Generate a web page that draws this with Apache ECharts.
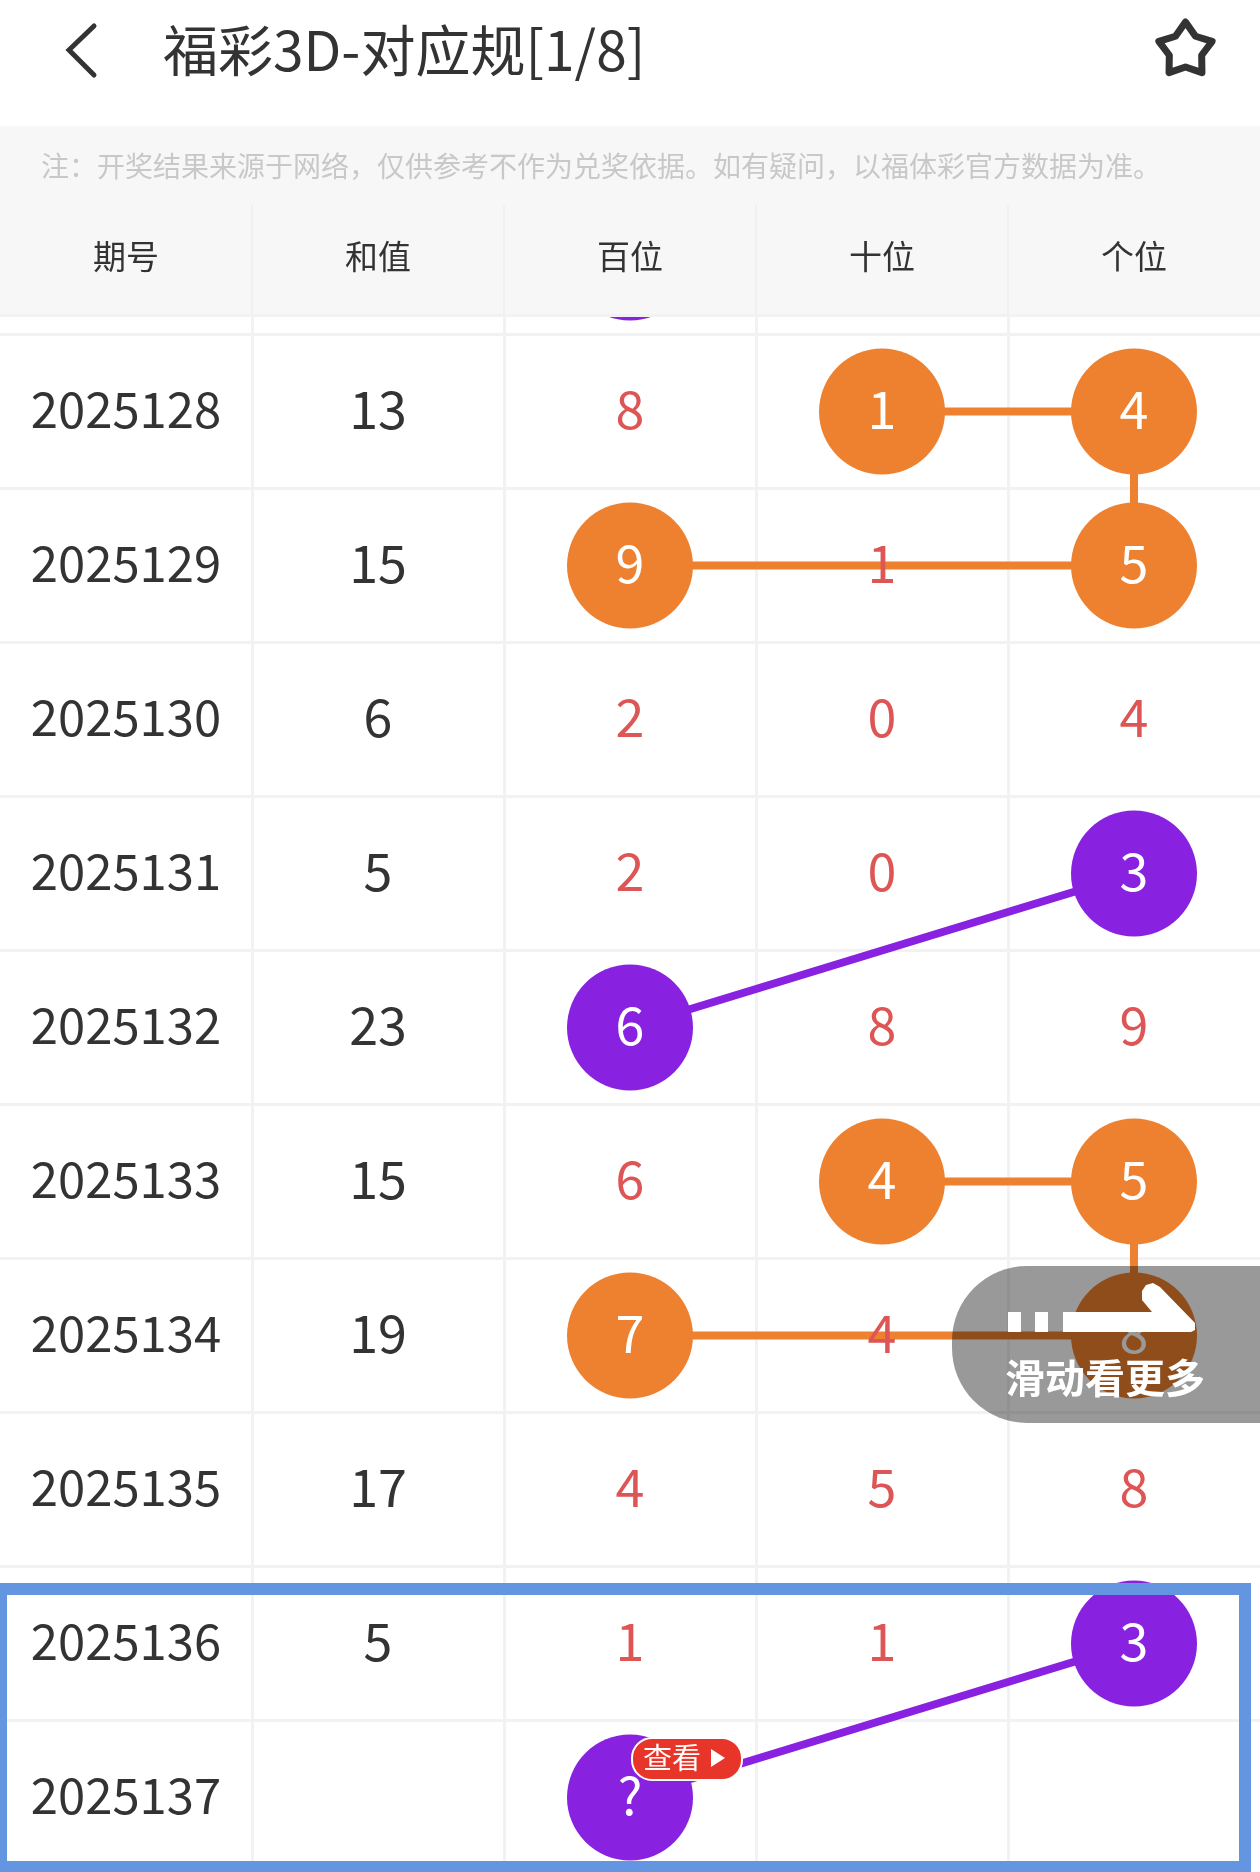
<!DOCTYPE html>
<html>
<head>
<meta charset="utf-8"/>
<title>福彩3D-对应规</title>
<script src="https://cdn.jsdelivr.net/npm/echarts@6/dist/echarts.min.js"></script>
<style>html,body{margin:0;padding:0;background:#fff;overflow:hidden}</style>
</head>
<body>
<div id="main" style="width:1260px;height:1880px;"></div>
<script type="text/javascript">
var columns = ['期号', '和值', '百位', '十位', '个位'];
var periods = ['', '2025128', '2025129', '2025130', '2025131', '2025132', '2025133', '2025134', '2025135', '2025136', '2025137'];
var sums = ['', 13, 15, 6, 5, 23, 15, 19, 17, 5, ''];
var hundreds = ['', 8, 9, 2, 2, 6, 6, 7, 4, 1, '?'];
var tens = ['', 1, 1, 0, 0, 8, 4, 4, 5, 1, ''];
var units = ['', 4, 5, 4, 3, 9, 5, 8, 8, 3, ''];
// [column, row] of the balls, column 2 = 百位, 3 = 十位, 4 = 个位
var orangeBalls = [[3, 1], [4, 1], [2, 2], [4, 2], [3, 6], [4, 6], [2, 7], [4, 7]];
var purpleBalls = [[2, 0], [4, 4], [2, 5], [4, 9], [2, 10]];
var orangeLinks = [
    [[3, 1], [4, 1], [4, 2], [2, 2]],
    [[3, 6], [4, 6], [4, 7], [2, 7]]
];
var purpleLinks = [
    [[4, 4], [2, 5]],
    [[4, 9], [2, 10]]
];

var ORANGE = '#ee8130', PURPLE = '#8822e0', RED = '#dd5555', DARK = '#333333', LINE = '#f2f2f2';
var FONT = '"Noto Sans CJK SC", "Noto Sans", sans-serif';
var digitCols = [hundreds, tens, units];

var plainCells = [];
periods.forEach(function (p, r) { plainCells.push({ value: [0, r, p], label: { color: DARK, fontSize: 49 } }); });
sums.forEach(function (s, r) { plainCells.push({ value: [1, r, s], label: { color: DARK } }); });
function isBall(list, c, r) {
    return list.some(function (b) { return b[0] === c && b[1] === r; });
}
digitCols.forEach(function (col, i) {
    col.forEach(function (v, r) {
        var c = i + 2;
        if (isBall(orangeBalls, c, r) || isBall(purpleBalls, c, r)) return;
        plainCells.push({ value: [c, r, v], label: { color: RED } });
    });
});
function ballData(list) {
    return list.map(function (b) { return [b[0], b[1], digitCols[b[0] - 2][b[1]]]; });
}
function cellLabel(color) {
    return {
        show: true, position: 'inside', fontFamily: FONT, fontSize: 52, color: color, offset: [0, -2],
        formatter: function (p) { return p.value[2]; }
    };
}
var series = [];
orangeLinks.forEach(function (l) {
    series.push({ type: 'line', data: l, symbol: 'none', silent: true, z: 2, lineStyle: { color: ORANGE, width: 8 } });
});
purpleLinks.forEach(function (l) {
    series.push({ type: 'line', data: l, symbol: 'none', silent: true, z: 2, lineStyle: { color: PURPLE, width: 8 } });
});
series.push({ type: 'scatter', data: ballData(orangeBalls), symbolSize: 126, z: 3, itemStyle: { color: ORANGE, opacity: 1 }, label: cellLabel('#fff') });
series.push({ type: 'scatter', data: ballData(purpleBalls), symbolSize: 126, z: 3, itemStyle: { color: PURPLE, opacity: 1 }, label: cellLabel('#fff') });
series.push({ type: 'scatter', data: plainCells, symbolSize: 1, z: 4, itemStyle: { color: 'transparent', opacity: 1 }, label: cellLabel(DARK) });

// page furniture on top of the table
var g = [];
function rect(x, y, w, h, fill, z, r) {
    g.push({ type: 'rect', z: z, silent: true, shape: { x: x, y: y, width: w, height: h, r: r || 0 }, style: { fill: fill } });
}
function txt(t, x, y, size, fill, z, weight, align) {
    g.push({ type: 'text', z: z, silent: true, x: x, y: y, style: { text: t, fontFamily: FONT, fontSize: size, fill: fill, fontWeight: weight || 'normal', align: align || 'center', verticalAlign: 'middle' } });
}
rect(0, 0, 1260, 126, '#ffffff', 100);
rect(0, 126, 1260, 188, '#f7f7f7', 100);
rect(0, 314, 1260, 3, LINE, 101);
[252, 504, 756, 1008].forEach(function (x) { rect(x - 1, 205, 2, 109, '#f0f0f0', 101); });
g.push({ type: 'polyline', z: 102, silent: true, shape: { points: [[94, 26], [69, 50], [94, 75]] }, style: { stroke: DARK, lineWidth: 5, fill: null, lineCap: 'round' } });
txt('福彩3D-对应规[1/8]', 163, 50, 55, DARK, 102, 'normal', 'left');
var star = [];
for (var i = 0; i < 10; i++) {
    var rad = i % 2 ? 17 : 28;
    var ang = -Math.PI / 2 + i * Math.PI / 5;
    star.push([1185.5 + rad * Math.cos(ang), 50 + rad * Math.sin(ang)]);
}
g.push({ type: 'polygon', z: 102, silent: true, shape: { points: star }, style: { stroke: DARK, lineWidth: 7, fill: '#fff', lineJoin: 'round' } });
txt('注：开奖结果来源于网络，仅供参考不作为兑奖依据。如有疑问，以福体彩官方数据为准。', 41, 166, 28, '#c8c8c8', 102, 'normal', 'left');
columns.forEach(function (c, i) { txt(c, 126 + i * 252, 256, 33, DARK, 102); });

// slide hint
rect(952, 1266, 420, 157, 'rgba(0,0,0,0.4)', 110, 75);
rect(1008, 1312, 13, 20, '#fff', 111);
rect(1035, 1312, 13, 20, '#fff', 111);
g.push({ type: 'polygon', z: 111, silent: true, shape: { points: [[1063, 1312], [1152, 1312], [1142, 1300], [1142, 1291], [1146, 1285], [1153, 1283], [1160, 1287], [1195, 1323], [1195, 1330], [1191, 1332], [1063, 1332]] }, style: { fill: '#fff' } });
txt('滑动看更多', 1105, 1378, 40, '#fff', 111, 'bold');

// highlight frame
rect(0, 1583, 1251, 12, '#6495e0', 120);
rect(0, 1861, 1251, 11, '#6495e0', 120);
rect(0, 1583, 7, 289, '#6495e0', 120);
rect(1239, 1583, 12, 289, '#6495e0', 120);

// view badge
g.push({ type: 'rect', z: 115, silent: true, shape: { x: 632, y: 1738, width: 110, height: 42, r: 20 }, style: { fill: '#e8352a', stroke: '#ffffff', lineWidth: 2 } });
txt('查看', 672, 1758, 29, '#fff', 116);
g.push({ type: 'polygon', z: 116, silent: true, shape: { points: [[711, 1749], [725, 1758], [711, 1767]] }, style: { fill: '#fff' } });

var chart = echarts.init(document.getElementById('main'), null, { renderer: 'canvas' });
chart.setOption({
    backgroundColor: '#ffffff',
    animation: false,
    grid: { left: 0, top: 180.5, width: 1260, height: 1694, containLabel: false },
    xAxis: {
        type: 'category', data: columns, position: 'top',
        axisLine: { show: false }, axisTick: { show: false }, axisLabel: { show: false },
        splitLine: { show: true, showMinLine: false, showMaxLine: false, lineStyle: { color: LINE, width: 3 } }
    },
    yAxis: {
        type: 'category', data: periods.map(function (p, i) { return i; }), inverse: true,
        axisLine: { show: false }, axisTick: { show: false }, axisLabel: { show: false },
        splitLine: { show: true, showMinLine: false, showMaxLine: false, lineStyle: { color: LINE, width: 3 } }
    },
    series: series,
    graphic: g
});
</script>
</body>
</html>
